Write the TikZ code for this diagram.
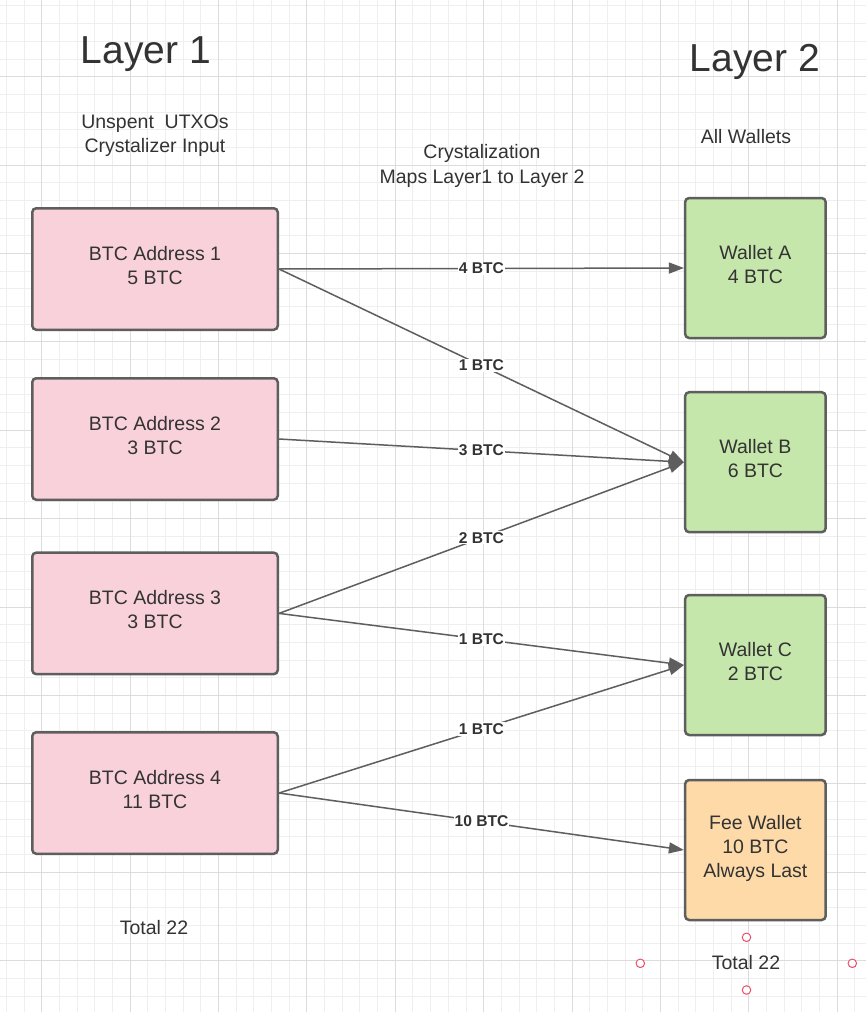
\documentclass[tikz,border=0pt]{standalone}
\usepackage{fontspec}
\setmainfont{Liberation Sans}
\usetikzlibrary{arrows.meta}
\definecolor{gridminor}{HTML}{EFEFEF}
\definecolor{gridmajor}{HTML}{DCDCDC}
\definecolor{boxline}{HTML}{5E5E5E}
\definecolor{pinkfill}{HTML}{F9D1DB}
\definecolor{greenfill}{HTML}{C6E7AB}
\definecolor{orangefill}{HTML}{FEDAA8}
\definecolor{txt}{HTML}{333333}
\definecolor{handle}{HTML}{E8506A}
\begin{document}
\begin{tikzpicture}[x=1pt,y=-1pt,
  box/.style={draw=boxline, line width=2.5pt, rounded corners=4pt, align=center, text=txt, font=\fontsize{19.5}{24}\selectfont, inner sep=0pt, text depth=7pt},
  lbox/.style={box, fill=pinkfill, minimum width=245.5pt, minimum height=121.5pt},
  rbox/.style={box, minimum width=140.5pt, minimum height=140pt},
  flow/.style={draw=boxline, line width=1.5pt, -{Triangle[length=15pt,width=11pt]}},
  amt/.style={midway, fill=white, inner sep=1pt, text=txt, font=\bfseries\fontsize{15.6}{18}\selectfont},
  lbl/.style={text=txt, font=\fontsize{19.5}{24}\selectfont, align=center, inner sep=0pt},
  big/.style={text=txt, font=\fontsize{39}{46}\selectfont, inner sep=0pt, anchor=base},
  hdl/.style={circle, draw=handle, fill=white, line width=1pt, minimum size=8.5pt, inner sep=0pt}
]
\useasboundingbox (0,0) rectangle (866,1012);
\fill[white] (0,0) rectangle (866,1012);
% grid
\foreach \i in {0,...,48} {\pgfmathsetmacro\gx{6.32+17.68*\i}\draw[gridminor,line width=1pt] (\gx,0) -- (\gx,1012);}
\foreach \j in {0,...,56} {\pgfmathsetmacro\gy{5.98+17.68*\j}\draw[gridminor,line width=1pt] (0,\gy) -- (866,\gy);}
\foreach \i in {2,7,...,47} {\pgfmathsetmacro\gx{6.32+17.68*\i}\draw[gridmajor,line width=1pt] (\gx,0) -- (\gx,1012);}
\foreach \j in {4,9,...,54} {\pgfmathsetmacro\gy{5.98+17.68*\j}\draw[gridmajor,line width=1pt] (0,\gy) -- (866,\gy);}

% headings
\node[big] (l1) at (146,63) {Layer 1};
\node[big] (l2) at (755,71) {Layer 2};
\node[lbl] (inlbl) at (155,135.5) {Unspent~~UTXOs\\Crystalizer Input};
\node[lbl] (cry) at (482,166) {Crystalization\\[1pt]Maps Layer1 to Layer 2};
\node[lbl, anchor=base] (allw) at (746,143) {All Wallets};

% left boxes
\node[lbox] (b1) at (155,269) {BTC Address 1\\5 BTC};
\node[lbox] (b2) at (155,439) {BTC Address 2\\3 BTC};
\node[lbox] (b3) at (155,613.4) {BTC Address 3\\3 BTC};
\node[lbox] (b4) at (155,793) {BTC Address 4\\11 BTC};

% right boxes
\node[rbox, fill=greenfill] (wa) at (755.4,268) {Wallet A\\4 BTC};
\node[rbox, fill=greenfill] (wb) at (755.4,462.2) {Wallet B\\6 BTC};
\node[rbox, fill=greenfill] (wc) at (755.4,665) {Wallet C\\2 BTC};
\node[rbox, fill=orangefill] (fw) at (755.4,850) {Fee Wallet\\10 BTC\\Always Last};

% flows
\draw[flow] (b1.east) -- node[amt] {4 BTC} (wa.west);
\draw[flow] (b1.east) -- node[amt] {1 BTC} (wb.west);
\draw[flow] (b2.east) -- node[amt] {3 BTC} (wb.west);
\draw[flow] (b3.east) -- node[amt] {2 BTC} (wb.west);
\draw[flow] (b3.east) -- node[amt] {1 BTC} (wc.west);
\draw[flow] (b4.east) -- node[amt] {1 BTC} (wc.west);
\draw[flow] (b4.east) -- node[amt] {10 BTC} (fw.west);

% totals
\node[lbl, anchor=base] (t1) at (154,934) {Total 22};
\node[lbl, anchor=base] (t2) at (746,969) {Total 22};
\node[hdl] (h1) at (746.5,937.3) {};
\node[hdl] (h2) at (640.3,963.3) {};
\node[hdl] (h3) at (852.3,963.3) {};
\node[hdl] (h4) at (746.5,990) {};
\end{tikzpicture}
\end{document}
